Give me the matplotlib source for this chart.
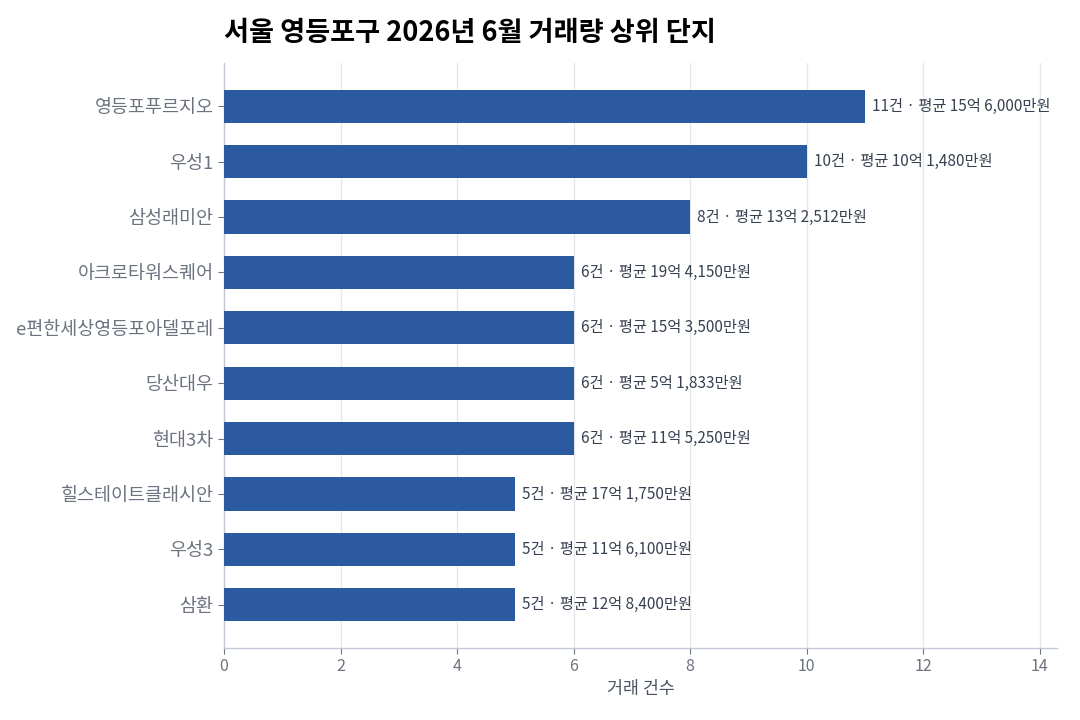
import matplotlib
matplotlib.use("Agg")
import matplotlib.pyplot as plt

plt.rcParams['font.family'] = ['Noto Sans CJK KR', 'DejaVu Sans']

names = ["영등포푸르지오", "우성1", "삼성래미안", "아크로타워스퀘어", "e편한세상영등포아델포레",
         "당산대우", "현대3차", "힐스테이트클래시안", "우성3", "삼환"]
counts = [11, 10, 8, 6, 6, 6, 6, 5, 5, 5]
avg_labels = ["15억 6,000만원", "10억 1,480만원", "13억 2,512만원", "19억 4,150만원",
              "15억 3,500만원", "5억 1,833만원", "11억 5,250만원", "17억 1,750만원",
              "11억 6,100만원", "12억 8,400만원"]
xticks = [0, 2, 4, 6, 8, 10, 12, 14]

bar_color = "#2b5aa0"
spine_color = "#c3c9d6"
tick_color = "#6b7280"

fig = plt.figure(figsize=(10.8, 7.2), dpi=100)
ax = fig.add_axes([224/1080, 1-648/720, (1057-224)/1080, (648-63)/720])

ypos = list(range(len(names)))
ax.barh(ypos, counts, height=0.6, color=bar_color, zorder=3)
ax.invert_yaxis()
ax.set_yticks(ypos)
ax.set_yticklabels(names)
ax.set_xlim(0, max(counts) * 1.3)
ax.set_xticks(xticks)

for y, c, lab in zip(ypos, counts, avg_labels):
    ax.text(c + 0.12, y, f"{c}건 · 평균 {lab}", va="center", ha="left",
            fontsize=11, color="#374151", zorder=4)

ax.grid(axis="x", color="#e5e7eb", linewidth=0.9, zorder=0)
ax.set_axisbelow(True)
for s in ["top", "right"]:
    ax.spines[s].set_visible(False)
for s in ["left", "bottom"]:
    ax.spines[s].set_color(spine_color)
    ax.spines[s].set_linewidth(1.0)
ax.tick_params(axis="both", colors=tick_color, length=4, width=0.8)
ax.tick_params(axis="y", labelsize=13.3)
ax.tick_params(axis="x", labelsize=11.5)
ax.set_xlabel("거래 건수", fontsize=12.5, color="#4b5563", labelpad=3)

ax.set_title("서울 영등포구 2026년 6월 거래량 상위 단지", loc="left", fontsize=19.6,
             fontweight="bold", color="black", pad=16)

fig.savefig("out.png", dpi=100)
